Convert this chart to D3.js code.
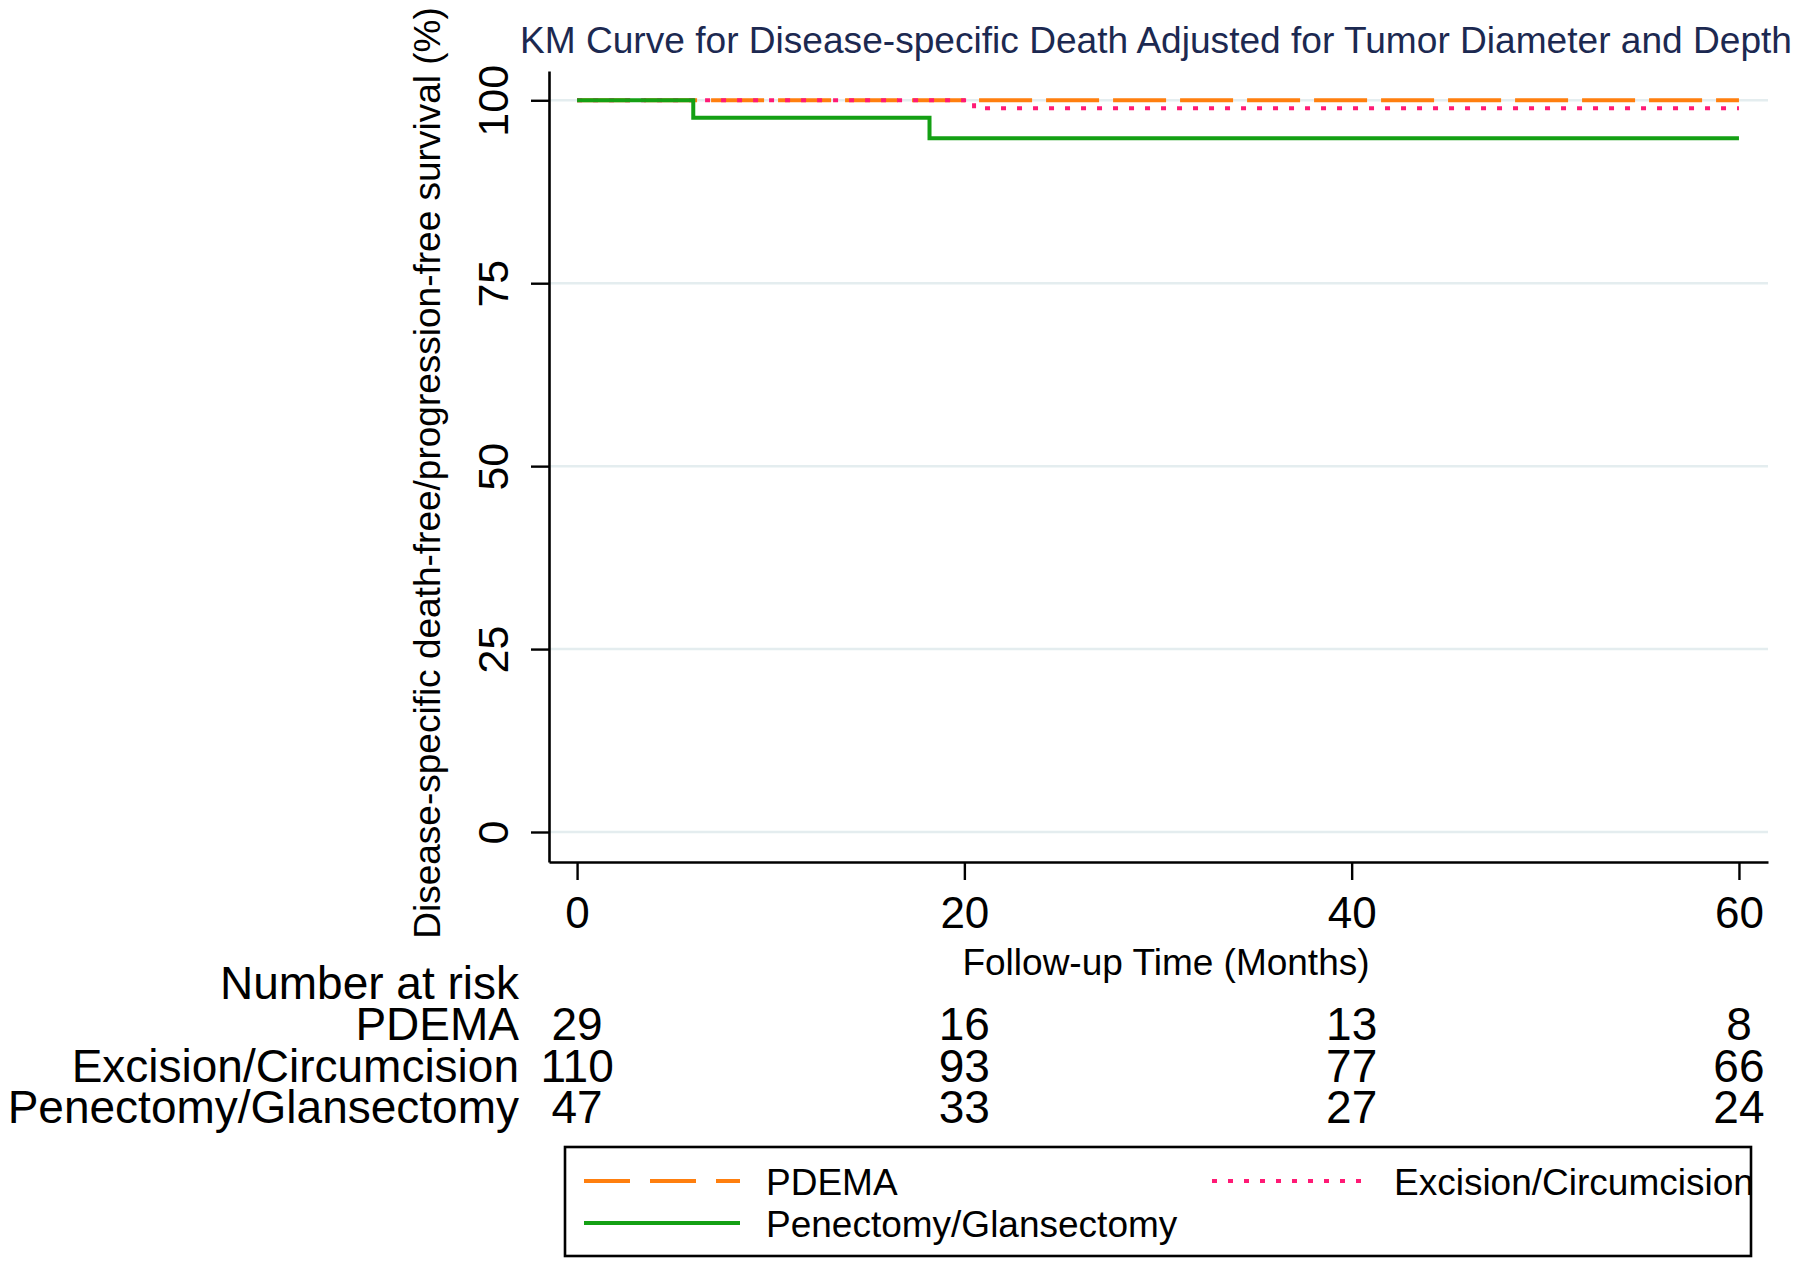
<!DOCTYPE html>
<html>
<head>
<meta charset="utf-8">
<script src="https://cdn.jsdelivr.net/npm/d3@7"></script>
<style>
  html, body { margin: 0; padding: 0; background: #fff; }
  svg { display: block; font-family: "Liberation Sans", Arial, Helvetica, sans-serif; }
</style>
</head>
<body>
<svg id="chart" width="1800" height="1265"></svg>
<script>
// ---------------- DATA ----------------
const titleText = "KM Curve for Disease-specific Death Adjusted for Tumor Diameter and Depth";
const yLabelText = "Disease-specific death-free/progression-free survival (%)";
const xLabelText = "Follow-up Time (Months)";
const xTicks = [0, 20, 40, 60];
const yTicks = [0, 25, 50, 75, 100];
const groups = ["PDEMA", "Excision/Circumcision", "Penectomy/Glansectomy"];

// KM step curves (time in months, survival in %)
const pdemaTime = [0, 60];
const pdemaSurv = [100, 100];
const excisionTime = [0, 20.5, 60];
const excisionSurv = [100, 98.9, 98.9];
const penectomyTime = [0, 6, 18.2, 60];
const penectomySurv = [100, 97.6, 94.8, 94.8];

// Number at risk table
const riskTimes = [0, 20, 40, 60];
const riskPDEMA = [29, 16, 13, 8];
const riskExcision = [110, 93, 77, 66];
const riskPenectomy = [47, 33, 27, 24];

// ---------------- STYLES ----------------
const colors = { "PDEMA": "#ff7f0e", "Excision/Circumcision": "#ff1a75", "Penectomy/Glansectomy": "#14a014" };
const dashes = { "PDEMA": "53,14", "Excision/Circumcision": "5,11", "Penectomy/Glansectomy": null };

const svg = d3.select("#chart");

const x = d3.scaleLinear().domain([-1.45, 61.5]).range([549, 1768]);
const y = d3.scaleLinear().domain([-4.1, 104]).range([862, 71]);

// Gridlines
svg.append("g").selectAll("line").data(yTicks).join("line")
  .attr("x1", x.range()[0]).attr("x2", x.range()[1])
  .attr("y1", d => y(d)).attr("y2", d => y(d))
  .attr("stroke", "#e4edef").attr("stroke-width", 2.5);

// Curves
const series = [
  { name: groups[0], t: pdemaTime, s: pdemaSurv },
  { name: groups[1], t: excisionTime, s: excisionSurv },
  { name: groups[2], t: penectomyTime, s: penectomySurv }
];
const line = d3.line().x(d => x(d[0])).y(d => y(d[1])).curve(d3.curveStepAfter);
svg.append("g").selectAll("path").data(series).join("path")
  .attr("d", d => line(d.t.map((t, i) => [t, d.s[i]])))
  .attr("fill", "none")
  .attr("stroke", d => colors[d.name])
  .attr("stroke-width", 4)
  .attr("stroke-dasharray", d => dashes[d.name]);

// Axes
const xAxis = d3.axisBottom(x).tickValues(xTicks).tickSize(18).tickSizeOuter(0).tickPadding(14);
const gx = svg.append("g").attr("transform", "translate(0,862)").call(xAxis);
gx.select(".domain").attr("stroke", "#000").attr("stroke-width", 2.6);
gx.selectAll(".tick line").attr("stroke", "#000").attr("stroke-width", 2.4);
gx.selectAll(".tick text").attr("font-size", 44).attr("fill", "#000")
  .attr("font-family", "Liberation Sans, Arial, sans-serif")
  .attr("dy", null).attr("y", 66);

const yAxis = d3.axisLeft(y).tickValues(yTicks).tickSize(18).tickSizeOuter(0);
const gy = svg.append("g").attr("transform", "translate(549,0)").call(yAxis);
gy.select(".domain").attr("stroke", "#000").attr("stroke-width", 2.6);
gy.selectAll(".tick line").attr("stroke", "#000").attr("stroke-width", 2.4);
gy.selectAll(".tick text").attr("font-size", 43).attr("fill", "#000")
  .attr("font-family", "Liberation Sans, Arial, sans-serif")
  .attr("text-anchor", "middle")
  .attr("dy", null).attr("x", 0).attr("y", -41)
  .attr("transform", "rotate(-90)");

// Title
svg.append("text").attr("x", 520).attr("y", 53)
  .attr("font-size", 36).attr("fill", "#1c2951")
  .attr("textLength", 1272).attr("lengthAdjust", "spacingAndGlyphs")
  .text(titleText);

// Y label
svg.append("text").attr("transform", "translate(440,473) rotate(-90)")
  .attr("text-anchor", "middle").attr("font-size", 37).attr("fill", "#000")
  .text(yLabelText);

// X label
svg.append("text").attr("x", 1166).attr("y", 975)
  .attr("text-anchor", "middle").attr("font-size", 37).attr("fill", "#000")
  .text(xLabelText);

// Number at risk table
const riskRows = [
  { name: groups[0], vals: riskPDEMA, yb: 1040 },
  { name: groups[1], vals: riskExcision, yb: 1082 },
  { name: groups[2], vals: riskPenectomy, yb: 1123 }
];
svg.append("text").attr("x", 519).attr("y", 999).attr("text-anchor", "end")
  .attr("font-size", 46).attr("fill", "#000").text("Number at risk");
const rg = svg.append("g").selectAll("g").data(riskRows).join("g");
rg.append("text").attr("x", 519).attr("y", d => d.yb).attr("text-anchor", "end")
  .attr("font-size", 46).attr("fill", "#000").text(d => d.name);
rg.selectAll("text.num").data(d => d.vals.map((v, i) => ({ v, t: riskTimes[i], yb: d.yb })))
  .join("text").attr("class", "num")
  .attr("x", d => x(d.t)).attr("y", d => d.yb).attr("text-anchor", "middle")
  .attr("font-size", 46).attr("fill", "#000").text(d => d.v);

// Legend
const lg = svg.append("g");
lg.append("rect").attr("x", 565).attr("y", 1147).attr("width", 1186).attr("height", 109)
  .attr("fill", "#fff").attr("stroke", "#000").attr("stroke-width", 2.6);
const legendItems = [
  { name: groups[0], lx: 584, ly: 1181, tx: 766, ty: 1195 },
  { name: groups[1], lx: 1212, ly: 1181, tx: 1394, ty: 1195 },
  { name: groups[2], lx: 584, ly: 1223, tx: 766, ty: 1237 }
];
lg.selectAll("line").data(legendItems).join("line")
  .attr("x1", d => d.lx).attr("x2", d => d.lx + 156)
  .attr("y1", d => d.ly).attr("y2", d => d.ly)
  .attr("stroke", d => colors[d.name]).attr("stroke-width", 4)
  .attr("stroke-dasharray", d => d.name === groups[0] ? "46,20" : dashes[d.name]);
lg.selectAll("text").data(legendItems).join("text")
  .attr("x", d => d.tx).attr("y", d => d.ty)
  .attr("font-size", 37).attr("fill", "#000").text(d => d.name);
</script>
</body>
</html>
